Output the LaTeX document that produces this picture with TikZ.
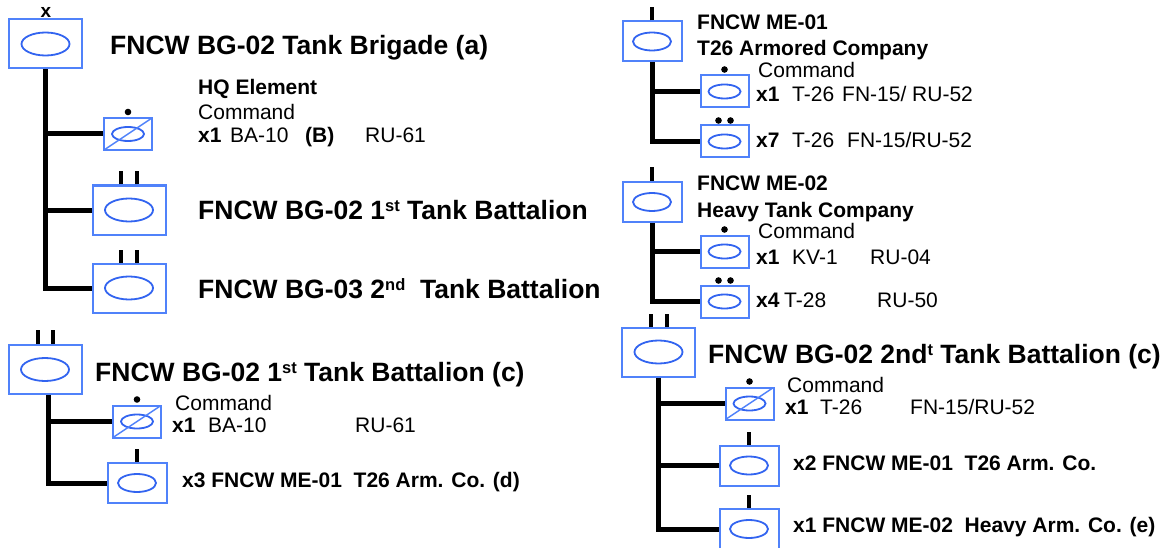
\documentclass[tikz,border=0pt]{standalone}
\usepackage{fontspec}
\setmainfont{Liberation Sans}
\usepackage{tikz}
\usetikzlibrary{calc}
\definecolor{unitblue}{RGB}{80,130,250}
\definecolor{ovalblue}{RGB}{50,100,240}
\newcommand\upidx[1]{\raisebox{7.5pt}{\fontsize{16.5}{16.5}\selectfont #1}}

\begin{document}
\begin{tikzpicture}[
    x=1pt, y=-1pt,
    unitbox/.style={rectangle, draw=unitblue, line width=2pt, inner sep=0pt},
    oval/.style={draw=ovalblue, line width=1.8pt},
    bigunit/.style={unitbox, minimum width=73pt, minimum height=49pt,
        path picture={\draw[oval] (path picture bounding box.center) ellipse (24pt and 11.5pt);}},
    counit/.style={unitbox, minimum width=59pt, minimum height=40pt,
        path picture={\draw[oval] (path picture bounding box.center) ellipse (19pt and 9pt);}},
    pltunit/.style={unitbox, minimum width=48pt, minimum height=32pt,
        path picture={\draw[oval] (path picture bounding box.center) ellipse (16pt and 7pt);}},
    hqunit/.style={unitbox, minimum width=48pt, minimum height=32pt,
        path picture={\draw[oval] (path picture bounding box.center) ellipse (16pt and 7pt);
                      \draw[unitblue, line width=1.5pt] (path picture bounding box.south west) -- (path picture bounding box.north east);}},
    trunk/.style={line width=5pt},
    tick/.style={line width=4pt},
    ttl/.style={anchor=base west, inner sep=0pt, font=\fontsize{26.5}{30}\selectfont\bfseries},
    lbl/.style={anchor=base west, inner sep=0pt, font=\fontsize{21}{24}\selectfont},
    lblb/.style={lbl, font=\fontsize{21}{24}\selectfont\bfseries}
]
\useasboundingbox (0,0) rectangle (1166,548);

% brigade
\node[bigunit] (bde) at (45.5,44) {};
\node[anchor=base, inner sep=0pt, font=\fontsize{19}{22}\selectfont\bfseries] (bdeech) at (46,18) {x};
\node[ttl] (bdettl) at (110,55) {FNCW BG-02 Tank Brigade (a)};

\node[hqunit] (bdehq) at (128,134) {};
\fill (bdehq.north) ++(0pt,5pt) circle (3.3pt);
\node[lblb] (bdehqttl) at (198,95) {HQ Element};
\node[lbl] (bdehqcmd) at (198,120) {Command};
\node[lbl] (bdehqeq) at (198,143) {\makebox[32pt][l]{\textbf{x1}}\makebox[75pt][l]{BA-10}\makebox[60pt][l]{\textbf{(B)}}RU-61};

\node[bigunit] (bn1) at (129,210) {};
\draw[tick] ([xshift=-8pt]bn1.north) -- ++(0pt,13pt);
\draw[tick] ([xshift=8pt]bn1.north) -- ++(0pt,13pt);
\node[ttl] (bn1ttl) at (198,219) {FNCW BG-02 1\upidx{st} Tank Battalion};

\node[bigunit] (bn2) at (129,288) {};
\draw[tick] ([xshift=-8pt]bn2.north) -- ++(0pt,13pt);
\draw[tick] ([xshift=8pt]bn2.north) -- ++(0pt,13pt);
\node[ttl] (bn2ttl) at (198,298) {FNCW BG-03 2\upidx{nd}\ \ Tank Battalion};

\draw[trunk] (bde.south) |- (bn2.west);
\draw[trunk] (bde.south |- bdehq.west) -- (bdehq.west);
\draw[trunk] (bde.south |- bn1.west) -- (bn1.west);

% 1st battalion
\node[bigunit] (bnc) at (45,369.5) {};
\draw[tick] ([xshift=-7.5pt]bnc.north) -- ++(0pt,14pt);
\draw[tick] ([xshift=7.5pt]bnc.north) -- ++(0pt,14pt);
\node[ttl] (bncttl) at (95,381) {FNCW BG-02 1\upidx{st} Tank Battalion (c)};

\node[hqunit] (bnchq) at (137,421.5) {};
\fill (bnchq.north) ++(0pt,5pt) circle (3.3pt);
\node[lbl] (bnchqcmd) at (175,410) {Command};
\node[lbl] (bnchqeq) at (172,432) {\makebox[36pt][l]{\textbf{x1}}\makebox[147pt][l]{BA-10}RU-61};

\node[counit] (bncco) at (137,483) {};
\draw[tick] (bncco.north) -- ++(0pt,13pt);
\node[lblb] (bnccottl) at (182,487) {x3 FNCW ME-01\ \ T26 Arm. Co. (d)};

\draw[trunk] ([xshift=3pt]bnc.south) |- (bncco.west);
\draw[trunk] ([xshift=3pt]bnc.south |- bnchq.west) -- (bnchq.west);

% ME-01 company
\node[counit] (me01) at (652,41.5) {};
\draw[tick] (me01.north) -- ++(0pt,13pt);
\node[lblb] (me01ttl) at (697,30) {FNCW ME-01};
\node[lblb] (me01sub) at (697,56) {T26 Armored Company};

\node[pltunit] (me01hq) at (724.5,91.5) {};
\fill (me01hq.north) ++(0pt,5pt) circle (3.3pt);
\node[lbl] (me01hqcmd) at (758,78) {Command};
\node[lbl] (me01hqeq) at (756,102) {\makebox[36pt][l]{\textbf{x1}}\makebox[50pt][l]{T-26}FN-15/ RU-52};

\node[pltunit] (me01plt) at (724.5,141.5) {};
\fill ([xshift=-6pt]me01plt.north) ++(0pt,4pt) circle (3.3pt);
\fill ([xshift=6pt]me01plt.north) ++(0pt,4pt) circle (3.3pt);
\node[lbl] (me01plteq) at (756,148) {\makebox[36pt][l]{\textbf{x7}}\makebox[55pt][l]{T-26}FN-15/RU-52};

\draw[trunk] (me01.south) |- (me01plt.west);
\draw[trunk] (me01.south |- me01hq.west) -- (me01hq.west);

% ME-02 company
\node[counit] (me02) at (652,202) {};
\draw[tick] (me02.north) -- ++(0pt,14pt);
\node[lblb] (me02ttl) at (697,190) {FNCW ME-02};
\node[lblb] (me02sub) at (697,217) {Heavy Tank Company};

\node[pltunit] (me02hq) at (724.5,251.5) {};
\fill (me02hq.north) ++(0pt,5pt) circle (3.3pt);
\node[lbl] (me02hqcmd) at (758,238) {Command};
\node[lbl] (me02hqeq) at (756,264) {\makebox[36pt][l]{\textbf{x1}}\makebox[78pt][l]{KV-1}RU-04};

\node[pltunit] (me02plt) at (724.5,301.5) {};
\fill ([xshift=-6pt]me02plt.north) ++(0pt,4pt) circle (3.3pt);
\fill ([xshift=6pt]me02plt.north) ++(0pt,4pt) circle (3.3pt);
\node[lbl] (me02plteq) at (756,307) {\makebox[28pt][l]{\textbf{x4}}\makebox[93pt][l]{T-28}RU-50};

\draw[trunk] (me02.south) |- (me02plt.west);
\draw[trunk] (me02.south |- me02hq.west) -- (me02hq.west);

% 2nd battalion
\node[bigunit] (bnd) at (658.5,352) {};
\draw[tick] ([xshift=-8pt]bnd.north) -- ++(0pt,13pt);
\draw[tick] ([xshift=8pt]bnd.north) -- ++(0pt,13pt);
\node[ttl] (bndttl) at (708,363) {FNCW BG-02 2nd\upidx{t} Tank Battalion (c)};

\node[hqunit] (bndhq) at (749.5,403.5) {};
\fill (bndhq.north) ++(0pt,5pt) circle (3.3pt);
\node[lbl] (bndhqcmd) at (787,392) {Command};
\node[lbl] (bndhqeq) at (785,414) {\makebox[35pt][l]{\textbf{x1}}\makebox[90pt][l]{T-26}FN-15/RU-52};

\node[counit] (bndco1) at (749,465.5) {};
\draw[tick] (bndco1.north) -- ++(0pt,13pt);
\node[lblb] (bndco1ttl) at (793,470) {x2 FNCW ME-01\ \ T26 Arm. Co.};

\node[counit] (bndco2) at (749,529) {};
\draw[tick] (bndco2.north) -- ++(0pt,13pt);
\node[lblb] (bndco2ttl) at (793,532) {x1 FNCW ME-02\ \ Heavy Arm. Co. (e)};

\draw[trunk] (bnd.south) |- (bndco2.west);
\draw[trunk] (bnd.south |- bndhq.west) -- (bndhq.west);
\draw[trunk] (bnd.south |- bndco1.west) -- (bndco1.west);

\end{tikzpicture}
\end{document}
